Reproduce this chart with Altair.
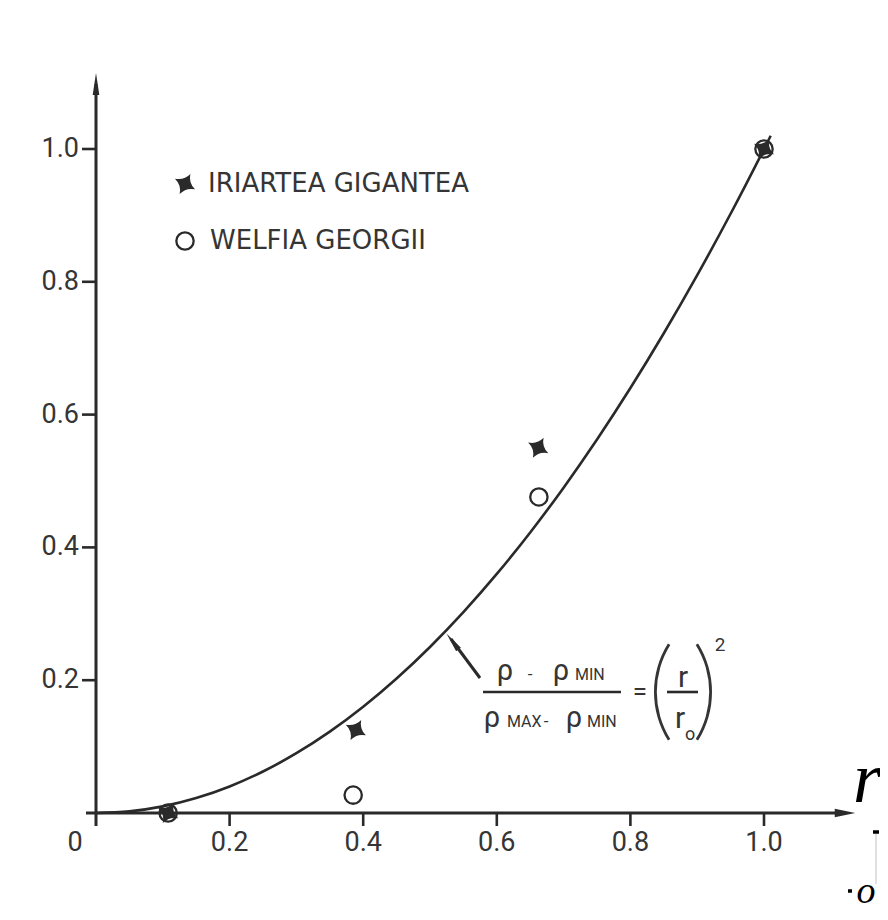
import altair as alt
import pandas as pd

# ---------------- data ----------------
curve_x = [0.0, 0.05, 0.1, 0.15, 0.2, 0.25, 0.3, 0.35, 0.4, 0.45, 0.5, 0.55,
           0.6, 0.65, 0.7, 0.75, 0.8, 0.85, 0.9, 0.95, 1.0, 1.01]
curve_y = [0.0, 0.0025, 0.01, 0.0225, 0.04, 0.0625, 0.09, 0.1225, 0.16, 0.2025,
           0.25, 0.3025, 0.36, 0.4225, 0.49, 0.5625, 0.64, 0.7225, 0.81, 0.9025,
           1.0, 1.02]
iriartea_x = [0.108, 0.389, 0.662, 1.0]
iriartea_y = [0.0, 0.125, 0.550, 1.0]
welfia_x = [0.108, 0.385, 0.663, 1.0]
welfia_y = [0.0, 0.027, 0.476, 1.0]
x_ticks = [0.2, 0.4, 0.6, 0.8, 1.0]
x_tick_labels = ["0.2", "0.4", "0.6", "0.8", "1.0"]
y_ticks = [0.2, 0.4, 0.6, 0.8, 1.0]
y_tick_labels = ["0.2", "0.4", "0.6", "0.8", "1.0"]
origin_label = "0"
legend_labels = ["IRIARTEA GIGANTEA", "WELFIA GEORGII"]

# ---------------- geometry helpers ----------------
W, H = 872, 904
PAD = 8
OX, OY = 96.0, 813.0      # page pixel of the data origin
SX, SY = 668.0, 664.0     # pixels per data unit


def dx(px):
    return (px - OX) / SX


def dy(py):
    return (OY - py) / SY


xs = alt.Scale(domain=[dx(PAD), dx(PAD + W)], nice=False, zero=False)
ys = alt.Scale(domain=[dy(PAD + H), dy(PAD)], nice=False, zero=False)

INK = "#2a2a2a"
TXT = "#353535"
FONT = "Roboto"
LFONT = "DejaVu Sans"


def X(f="x"):
    return alt.X(f"{f}:Q", scale=xs, axis=None)


def Y(f="y"):
    return alt.Y(f"{f}:Q", scale=ys, axis=None)


def X2(f="x2"):
    return alt.X2(f"{f}:Q")


def Y2(f="y2"):
    return alt.Y2(f"{f}:Q")


def segs(rows, width, color=INK, opacity=1.0):
    df = pd.DataFrame(rows, columns=["x", "y", "x2", "y2"])
    return alt.Chart(df).mark_rule(strokeWidth=width, color=color, opacity=opacity,
                                   strokeCap="butt").encode(
        x=X(), y=Y(), x2=X2(), y2=Y2())


def texts(rows, **kw):
    df = pd.DataFrame(rows, columns=["x", "y", "t"])
    return alt.Chart(df).mark_text(**kw).encode(x=X(), y=Y(), text="t:N")


# ---------------- curve ----------------
curve = alt.Chart(pd.DataFrame({"x": curve_x, "y": curve_y})).mark_line(
    color=INK, strokeWidth=2.6, interpolate="monotone").encode(x=X(), y=Y())

# ---------------- axes ----------------
axes = segs([
    (dx(86), 0.0, 1.122, 0.0),          # x axis
    (0.0, dy(826), 0.0, 1.098),         # y axis
], 3)
xt = segs([(t, 0.0, t, dy(826)) for t in x_ticks], 2.6)
yt = segs([(dx(82), t, 0.0, t) for t in y_ticks], 2.6)

arrow_right = "M 1 0 L -1 -0.42 L -1 0.42 Z"
arrow_up = "M 0 -1 L -0.3 1 L 0.3 1 Z"
heads = alt.layer(
    alt.Chart(pd.DataFrame({"x": [dx(845)], "y": [0.0]})).mark_point(
        shape=arrow_right, size=420, filled=True, color=INK, opacity=1).encode(x=X(), y=Y()),
    alt.Chart(pd.DataFrame({"x": [0.0], "y": [dy(84)]})).mark_point(
        shape=arrow_up, size=484, filled=True, color=INK, opacity=1).encode(x=X(), y=Y()),
)

ylab = texts([(dx(79), t, s) for t, s in zip(y_ticks, y_tick_labels)],
             align="right", baseline="middle", font=FONT, fontSize=27, color=TXT)
xlab = texts([(t, dy(843), s) for t, s in zip(x_ticks, x_tick_labels)]
             + [(dx(75), dy(843), origin_label)],
             align="center", baseline="middle", font=FONT, fontSize=27, color=TXT)

# ---------------- points ----------------
star = ("M 0 -1 Q 0.22 -0.22 1 0 Q 0.22 0.22 0 1 "
        "Q -0.22 0.22 -1 0 Q -0.22 -0.22 0 -1 Z")
stars = alt.Chart(pd.DataFrame({"x": iriartea_x, "y": iriartea_y})).mark_point(
    shape=star, size=520, angle=28, filled=True, color=INK, opacity=1).encode(x=X(), y=Y())
circles = alt.Chart(pd.DataFrame({"x": welfia_x, "y": welfia_y})).mark_point(
    shape="circle", size=300, filled=False, color=INK, strokeWidth=2.3, opacity=1).encode(
    x=X(), y=Y())

# ---------------- legend ----------------
leg_star = alt.Chart(pd.DataFrame({"x": [dx(185)], "y": [dy(184)]})).mark_point(
    shape=star, size=520, angle=28, filled=True, color=INK, opacity=1).encode(x=X(), y=Y())
leg_circ = alt.Chart(pd.DataFrame({"x": [dx(185)], "y": [dy(241)]})).mark_point(
    shape="circle", size=300, filled=False, color=INK, strokeWidth=2.3, opacity=1).encode(
    x=X(), y=Y())
leg_txt = texts([(dx(208), dy(184), legend_labels[0]),
                 (dx(210), dy(241), legend_labels[1])],
                align="left", baseline="middle", font=LFONT, fontSize=26, color=TXT)

# ---------------- formula annotation ----------------
f_arrow_line = segs([(dx(480), dy(678), dx(451), dy(639))], 3)
f_arrow_head = alt.Chart(pd.DataFrame({"x": [dx(452.5)], "y": [dy(641.5)]})).mark_point(
    shape=arrow_up, size=400, angle=323, filled=True, color=INK, opacity=1).encode(x=X(), y=Y())
f_bars = segs([(dx(483), dy(692), dx(621), dy(692)),
               (dx(667), dy(692), dx(698), dy(692))], 2.6)
rho = texts([(dx(505), dy(680), "ρ"), (dx(561), dy(680), "ρ"),
             (dx(492), dy(727), "ρ"), (dx(574), dy(727), "ρ")],
            align="center", baseline="alphabetic", font=FONT, fontSize=29, color=TXT)
small = texts([(dx(575), dy(680), "MIN"), (dx(507), dy(727), "MAX"),
               (dx(587), dy(727), "MIN")],
              align="left", baseline="alphabetic", font=FONT, fontSize=16, color=TXT)
dashes = texts([(dx(530), dy(680), "-"), (dx(546), dy(727), "-")],
               align="center", baseline="alphabetic", font=FONT, fontSize=17, color=TXT)
eq = texts([(dx(640), dy(692), "=")], align="center", baseline="middle",
           font=FONT, fontSize=26, color=TXT)
rr = texts([(dx(683), dy(687), "r"), (dx(680), dy(728), "r")],
           align="center", baseline="alphabetic", font=FONT, fontSize=30, color=TXT)
sub_o = texts([(dx(690), dy(740), "o")], align="center", baseline="alphabetic",
              font=FONT, fontSize=18, color=TXT)
sup2 = texts([(dx(720), dy(651), "2")], align="center", baseline="alphabetic",
             font=FONT, fontSize=19, color=TXT)
R = 91.6
paren_l = alt.Chart(pd.DataFrame({"x": [dx(654 + R)], "y": [dy(692)]})).mark_arc(
    radius=R, radius2=R - 2.8, theta=4.154, theta2=5.271, color=TXT).encode(x=X(), y=Y())
paren_r = alt.Chart(pd.DataFrame({"x": [dx(712 - R)], "y": [dy(692)]})).mark_arc(
    radius=R, radius2=R - 2.8, theta=1.012, theta2=2.129, color=TXT).encode(x=X(), y=Y())

# ---------------- cut-off axis label at the right edge ----------------
r_big = texts([(dx(867), dy(802), "r")], align="center", baseline="alphabetic",
              font="Liberation Serif", fontStyle="italic", fontSize=72, color="#000000")
o_big = texts([(dx(866), dy(903), "o")], align="center", baseline="alphabetic",
              font="Liberation Serif", fontStyle="italic", fontSize=38, color="#000000")
edge_marks = segs([(dx(873), dy(832), dx(879), dy(832)),
                   (dx(848), dy(891), dx(852), dy(891))], 3.5, color="#000000")
edge_line = segs([(dx(876), dy(834), dx(876), dy(884))], 1, color="#999999", opacity=0.6)

chart = alt.layer(
    axes, xt, yt, heads, ylab, xlab, curve, circles, stars,
    leg_star, leg_circ, leg_txt,
    f_arrow_line, f_arrow_head, f_bars, rho, small, dashes, eq, rr, sub_o, sup2,
    paren_l, paren_r, r_big, o_big, edge_marks, edge_line,
).properties(
    width=W, height=H, padding=0, background="white",
    autosize=alt.AutoSizeParams(type="none"),
).configure_view(stroke=None)

chart.save("out.html", embed_options={"renderer": "svg", "actions": False})
